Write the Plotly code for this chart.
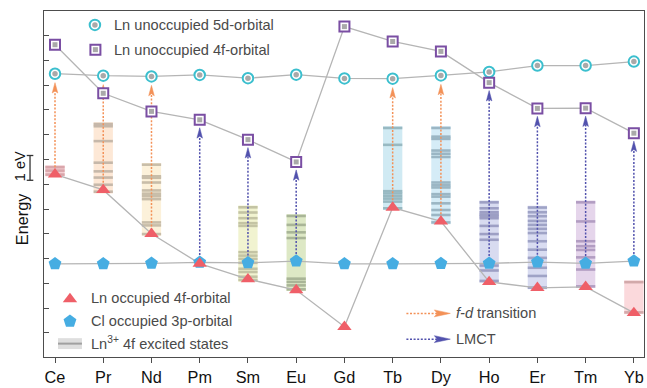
import plotly.graph_objects as go

# ---------------- data ----------------
elements = ["Ce", "Pr", "Nd", "Pm", "Sm", "Eu", "Gd", "Tb", "Dy", "Ho", "Er", "Tm", "Yb"]
ln_5d_unocc = [7.46, 7.38, 7.35, 7.41, 7.28, 7.42, 7.27, 7.26, 7.39, 7.53, 7.79, 7.79, 7.95]
ln_4f_unocc = [8.63, 6.67, 5.94, 5.60, 4.80, 3.90, 9.36, 8.76, 8.36, 7.10, 6.06, 6.07, 5.06]
ln_4f_occ = [3.40, 2.77, 1.00, -0.20, -0.83, -1.27, -2.75, 2.06, 1.50, -0.94, -1.18, -1.14, -2.19]
cl_3p_occ = [-0.21, -0.21, -0.19, -0.15, -0.17, -0.10, -0.21, -0.21, -0.20, -0.19, -0.14, -0.19, -0.10]

fd_elements = ["Ce", "Pr", "Nd", "Tb", "Dy"]
lmct_elements = ["Pm", "Sm", "Eu", "Ho", "Er", "Tm", "Yb"]

# Ln3+ 4f excited-state energies (eV, same scale)
levels_Ce = [3.39, 3.55, 3.69]
levels_Pr = [2.70, 2.98, 3.27, 3.52, 3.87, 4.74, 5.34, 5.43]
levels_Nd = [0.99, 1.34, 1.46, 2.40, 2.52, 2.62, 2.75, 3.07, 3.26, 3.32, 3.79]
levels_Pm = []
levels_Sm = [-0.86, -0.73, -0.54, -0.41, -0.17, -0.01, 0.12, 0.26, 1.32, 1.43, 1.63, 1.86, 2.07]
levels_Eu = [-1.24, -1.08, -0.94, -0.81, 0.83, 1.06, 1.36, 1.72]
levels_Gd = []
levels_Tb = [2.03, 2.30, 2.42, 2.52, 2.63, 2.72, 4.59, 5.27]
levels_Dy = [1.46, 1.76, 1.96, 2.23, 2.50, 2.60, 2.87, 2.96, 3.07, 4.10, 4.23, 4.36, 4.83, 4.92, 5.27]
levels_Ho = [-0.90, -0.48, -0.28, 0.76, 0.99, 1.32, 1.63, 1.72, 1.78, 1.87, 2.03, 2.27]
levels_Er = [-1.17, -0.70, -0.37, 0.03, 0.36, 0.70, 1.03, 1.20, 1.36, 1.52, 1.71, 1.87, 2.06]
levels_Tm = [-1.12, -0.44, 0.05, 0.35, 0.50, 0.70, 1.50, 2.27]
levels_Yb = [-2.17, -0.95]

band_fill = ["#f5cfd3", "#fde8d6", "#fcf1da", None, "#f1f3d0", "#dde8c5", None,
             "#d0eaf3", "#d5ecf7", "#d8dbf0", "#d9dcf1", "#e5d5eb", "#fbd9dc"]
band_line = ["#d9a6ab", "#c6b8aa", "#c8bda9", None, "#c4c4a4", "#a9b597", None,
             "#98b9c2", "#9bb6c4", "#9d9fc4", "#9fa3c6", "#b29dc2", "#d2a9aa"]

excited = [levels_Ce, levels_Pr, levels_Nd, levels_Pm, levels_Sm, levels_Eu, levels_Gd,
           levels_Tb, levels_Dy, levels_Ho, levels_Er, levels_Tm, levels_Yb]

# ---------------- styles ----------------
FONT = "Liberation Sans, Arial, sans-serif"
C_5D = "#3bbfce"
C_4F = "#7a4ea3"
C_DOT = "#a9a9a9"
C_TRI = "#ef5f68"
C_PENT = "#46ade2"
C_FD = "#f39157"
C_LMCT = "#5151ad"
C_CONN = "#b5b5b5"
TXT = "#4a4a4a"

S_CIRC, S_SQ, S_TRI, S_PENT = 10.5, 10, 12.5, 13.5

X_RANGE = [-0.228, 12.21]
Y_RANGE = [-3.97, 9.99]
PX_PER_X = 48.3
PX_PER_EV = 25.0

x = list(range(len(elements)))
fig = go.Figure()

# connectors
for vals in (cl_3p_occ, ln_4f_occ, ln_5d_unocc, ln_4f_unocc):
    fig.add_trace(go.Scatter(x=x, y=vals, mode="lines", line=dict(color=C_CONN, width=1.3),
                             hoverinfo="skip", showlegend=False))


def arrows(names, start, end, color, gap_px):
    lx, ly, hx, hy = [], [], [], []
    hw = 2.8 / PX_PER_X
    L = 10.5 / PX_PER_EV
    notch = 2.0 / PX_PER_EV
    for n in names:
        i = elements.index(n)
        tip = end[i] - gap_px / PX_PER_EV
        lx += [i, i, None]
        ly += [start[i], tip - L + notch, None]
        hx += [i, i + hw, i, i - hw, i, None]
        hy += [tip, tip - L, tip - L + notch, tip - L, tip, None]
    fig.add_trace(go.Scatter(x=lx, y=ly, mode="lines", line=dict(color=color, width=1.5, dash="2px,1.6px"),
                             hoverinfo="skip", showlegend=False))
    fig.add_trace(go.Scatter(x=hx, y=hy, mode="lines", fill="toself", fillcolor=color,
                             line=dict(color=color, width=0.5), hoverinfo="skip", showlegend=False))


arrows(fd_elements, ln_4f_occ, ln_5d_unocc, C_FD, 9)
arrows(lmct_elements, cl_3p_occ, ln_4f_unocc, C_LMCT, 8)

# markers
fig.add_trace(go.Scatter(x=x, y=cl_3p_occ, mode="markers",
                         marker=dict(symbol="pentagon", size=S_PENT, color=C_PENT, line=dict(width=0)),
                         showlegend=False))
fig.add_trace(go.Scatter(x=x, y=ln_4f_occ, mode="markers",
                         marker=dict(symbol="triangle-up", size=S_TRI, color=C_TRI, line=dict(width=0)),
                         showlegend=False))
fig.add_trace(go.Scatter(x=x, y=ln_5d_unocc, mode="markers",
                         marker=dict(symbol="circle", size=S_CIRC, color="white", line=dict(color=C_5D, width=2)),
                         showlegend=False))
fig.add_trace(go.Scatter(x=x, y=ln_5d_unocc, mode="markers",
                         marker=dict(symbol="circle", size=5.5, color=C_DOT, line=dict(width=0)),
                         showlegend=False))
fig.add_trace(go.Scatter(x=x, y=ln_4f_unocc, mode="markers",
                         marker=dict(symbol="square", size=S_SQ, color="white", line=dict(color=C_4F, width=2)),
                         showlegend=False))
fig.add_trace(go.Scatter(x=x, y=ln_4f_unocc, mode="markers",
                         marker=dict(symbol="square", size=5, color=C_DOT, line=dict(width=0)),
                         showlegend=False))

# bands of excited states
shapes = []
band_w = 0.4
pad = 0.07
for i, lv in enumerate(excited):
    if not lv:
        continue
    shapes.append(dict(type="rect", xref="x", yref="y", x0=i - band_w / 2, x1=i + band_w / 2,
                       y0=min(lv) - pad, y1=max(lv) + pad, fillcolor=band_fill[i],
                       line=dict(width=0), layer="below"))
    for e in lv:
        shapes.append(dict(type="line", xref="x", yref="y", x0=i - band_w / 2, x1=i + band_w / 2,
                           y0=e, y1=e, line=dict(color=band_line[i], width=2.6), layer="below"))

# 1 eV scale bar (left of axis)
bar_lo = 3.16
bx = (30 - 44) / 601
bw = 3.3 / 601
shapes.append(dict(type="line", xref="paper", yref="y", x0=bx, x1=bx, y0=bar_lo, y1=bar_lo + 1,
                   line=dict(color="#333", width=1.3)))
for yy in (bar_lo, bar_lo + 1):
    shapes.append(dict(type="line", xref="paper", yref="y", x0=bx - bw, x1=bx + bw, y0=yy, y1=yy,
                       line=dict(color="#333", width=1.3)))

# ---------------- legend keys (overlay axes in plot-pixel units) ----------------
LX = "x2"
LY = "y2"
fig.add_trace(go.Scatter(x=[95], y=[25], xaxis=LX, yaxis=LY, mode="markers",
                         marker=dict(symbol="circle", size=S_CIRC, color="white", line=dict(color=C_5D, width=2)),
                         showlegend=False, hoverinfo="skip"))
fig.add_trace(go.Scatter(x=[95], y=[25], xaxis=LX, yaxis=LY, mode="markers",
                         marker=dict(symbol="circle", size=5.5, color=C_DOT), showlegend=False, hoverinfo="skip"))
fig.add_trace(go.Scatter(x=[95.5], y=[50], xaxis=LX, yaxis=LY, mode="markers",
                         marker=dict(symbol="square", size=S_SQ, color="white", line=dict(color=C_4F, width=2)),
                         showlegend=False, hoverinfo="skip"))
fig.add_trace(go.Scatter(x=[95.5], y=[50], xaxis=LX, yaxis=LY, mode="markers",
                         marker=dict(symbol="square", size=5, color=C_DOT), showlegend=False, hoverinfo="skip"))
fig.add_trace(go.Scatter(x=[70], y=[301.5], xaxis=LX, yaxis=LY, mode="markers",
                         marker=dict(symbol="triangle-up", size=S_TRI, color=C_TRI), showlegend=False, hoverinfo="skip"))
fig.add_trace(go.Scatter(x=[70], y=[324], xaxis=LX, yaxis=LY, mode="markers",
                         marker=dict(symbol="pentagon", size=S_PENT, color=C_PENT), showlegend=False, hoverinfo="skip"))
shapes.append(dict(type="rect", xref=LX, yref=LY, x0=58, x1=82, y0=341, y1=352,
                   fillcolor="#dedede", line=dict(width=0)))
shapes.append(dict(type="line", xref=LX, yref=LY, x0=58, x1=82, y0=346.5, y1=346.5,
                   line=dict(color="#a0a0a0", width=2)))

for yy, col in ((316, C_FD), (342, C_LMCT)):
    fig.add_trace(go.Scatter(x=[407, 440], y=[yy, yy], xaxis=LX, yaxis=LY, mode="lines",
                             line=dict(color=col, width=1.5, dash="2px,1.6px"), showlegend=False, hoverinfo="skip"))
    fig.add_trace(go.Scatter(x=[451, 435, 438, 435, 451], y=[yy, yy - 3.5, yy, yy + 3.5, yy],
                             xaxis=LX, yaxis=LY, mode="lines", fill="toself", fillcolor=col,
                             line=dict(color=col, width=0.5), showlegend=False, hoverinfo="skip"))

legend_texts = [
    (112, 25, "Ln unoccupied 5d-orbital"),
    (112, 50, "Ln unoccupied 4f-orbital"),
    (89, 300, "Ln occupied 4f-orbital"),
    (89, 324, "Cl occupied 3p-orbital"),
    (89, 346, "Ln<sup>3+</sup> 4f excited states"),
    (455, 316, "<i>f-d</i> transition"),
    (455, 342, "LMCT"),
]
annotations = []
for tx, ty, t in legend_texts:
    annotations.append(dict(xref=LX, yref=LY, x=tx, y=ty, text=t, showarrow=False,
                            xanchor="left", yanchor="middle",
                            font=dict(family=FONT, size=14.6, color=TXT)))

annotations.append(dict(xref="paper", yref="paper", x=(22 - 44) / 601, y=(360 - 221) / 349,
                        text="Energy", textangle=-90, showarrow=False, xanchor="center", yanchor="middle",
                        font=dict(family=FONT, size=16.3, color="#111")))
annotations.append(dict(xref="paper", yref="paper", x=(20 - 44) / 601, y=(360 - 167.5) / 349,
                        text="1 eV", textangle=-90, showarrow=False, xanchor="center", yanchor="middle",
                        font=dict(family=FONT, size=14.5, color="#111")))

AX = "#4d4d4d"
fig.update_layout(
    width=647, height=388,
    margin=dict(l=44, r=2, t=11, b=28),
    paper_bgcolor="white", plot_bgcolor="white",
    showlegend=False,
    shapes=shapes,
    annotations=annotations,
    xaxis=dict(range=X_RANGE, tickmode="array", tickvals=x, ticktext=elements,
               ticks="outside", ticklen=5, tickwidth=1.2, tickcolor=AX,
               showline=True, linecolor=AX, linewidth=1.3, mirror=True,
               showgrid=False, zeroline=False,
               tickfont=dict(family=FONT, size=16.3, color="#111")),
    yaxis=dict(range=Y_RANGE, tickmode="array", tickvals=list(range(-3, 10)),
               ticks="inside", ticklen=5, tickwidth=1.2, tickcolor=AX, showticklabels=False,
               showline=True, linecolor=AX, linewidth=1.3, mirror=True,
               showgrid=False, zeroline=False),
    xaxis2=dict(overlaying="x", range=[44, 645], visible=False, showgrid=False, zeroline=False),
    yaxis2=dict(overlaying="y", range=[360, 11], visible=False, showgrid=False, zeroline=False),
)

fig.write_html("out.html")
